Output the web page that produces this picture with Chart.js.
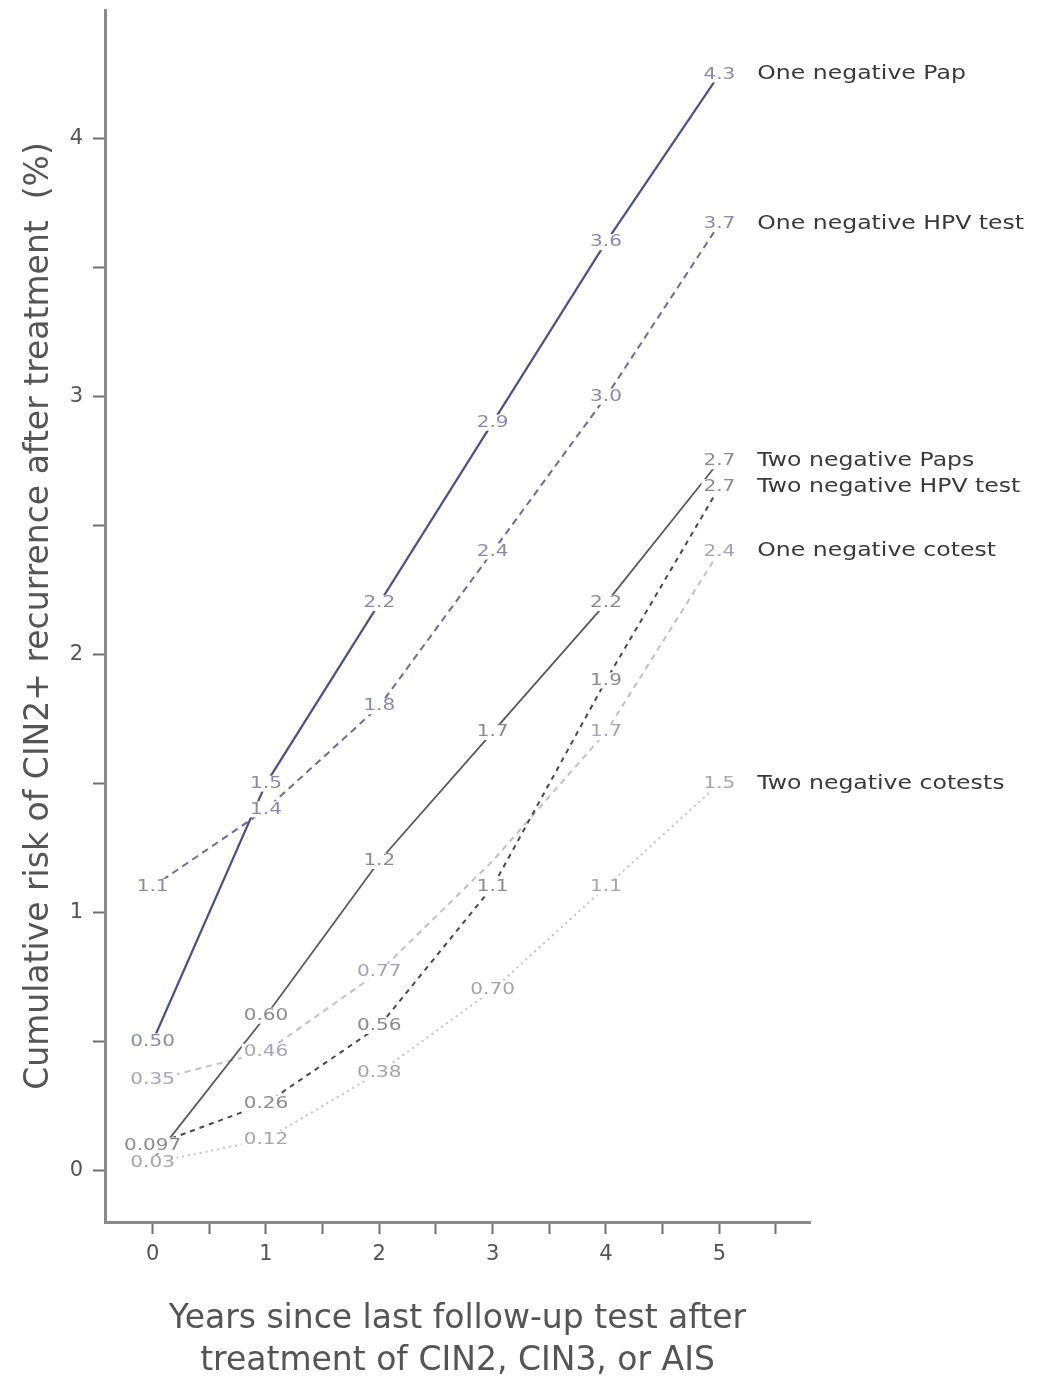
<!DOCTYPE html>
<html>
<head>
<meta charset="utf-8">
<script src="https://cdn.jsdelivr.net/npm/chart.js@4"></script>
<style>
  body { margin: 0; background: #ffffff; }
  canvas { display: block; }
</style>
</head>
<body>
<canvas id="chart" width="1056" height="1382"></canvas>
<script>
var years = [0, 1, 2, 3, 4, 5];

var oneNegPap = [0.50, 1.5, 2.2, 2.9, 3.6, 4.25];
var oneNegHpv = [1.1, 1.4, 1.8, 2.4, 3.0, 3.67];
var twoNegPaps = [0.04, 0.60, 1.2, 1.7, 2.2, 2.75];
var twoNegHpv = [0.097, 0.26, 0.56, 1.1, 1.9, 2.65];
var oneNegCotest = [0.35, 0.46, 0.77, 1.2, 1.7, 2.4];
var twoNegCotests = [0.03, 0.12, 0.38, 0.70, 1.1, 1.5];

var oneNegPapText = ['0.50', '1.5', '2.2', '2.9', '3.6', '4.3'];
var oneNegHpvText = ['1.1', '1.4', '1.8', '2.4', '3.0', '3.7'];
var twoNegPapsText = ['', '0.60', '1.2', '1.7', '2.2', '2.7'];
var twoNegHpvText = ['0.097', '0.26', '0.56', '1.1', '1.9', '2.7'];
var oneNegCotestText = ['0.35', '0.46', '0.77', '', '1.7', '2.4'];
var twoNegCotestsText = ['0.03', '0.12', '0.38', '0.70', '1.1', '1.5'];

var xTickValues = [0, 0.5, 1, 1.5, 2, 2.5, 3, 3.5, 4, 4.5, 5, 5.5];
var yTickValues = [0, 0.5, 1, 1.5, 2, 2.5, 3, 3.5, 4];

function pts(vals) {
    return vals.map(function (v, i) { return { x: years[i], y: v }; });
}

// text in the source is a bit wider than normal, so stretch it sideways
function wideText(ctx, t, x, y, sx) {
    ctx.save();
    ctx.translate(x, y);
    ctx.scale(sx, 1);
    ctx.fillText(t, 0, 0);
    ctx.restore();
}

var pointLabels = {
    id: 'pointLabels',
    afterDatasetsDraw: function (chart) {
        var ctx = chart.ctx;
        var xs = chart.scales.x, ys = chart.scales.y;
        ctx.save();
        ctx.textBaseline = 'middle';
        chart.data.datasets.forEach(function (ds) {
            ds.valueText.forEach(function (t, i) {
                if (!t) return;
                var px = xs.getPixelForValue(years[i]);
                var py = ys.getPixelForValue(ds.data[i].y);
                ctx.font = '16px "DejaVu Sans"';
                ctx.textAlign = 'center';
                var w = ctx.measureText(t).width * 1.25;
                ctx.fillStyle = '#ffffff';
                ctx.fillRect(px - w / 2 - 2, py - 8, w + 4, 16);
                ctx.fillStyle = ds.textColor;
                wideText(ctx, t, px, py, 1.25);
            });
            var last = years.length - 1;
            var lx = xs.getPixelForValue(years[last]) + 38;
            var ly = ys.getPixelForValue(ds.data[last].y);
            ctx.font = '19px "DejaVu Sans"';
            ctx.textAlign = 'left';
            ctx.fillStyle = '#3a3a3a';
            wideText(ctx, ds.label, lx, ly, 1.24);
        });
        ctx.restore();
    }
};

var config = {
    type: 'line',
    data: {
        datasets: [{
            label: 'One negative Pap',
            data: pts(oneNegPap),
            valueText: oneNegPapText,
            borderColor: '#4f4f8c',
            textColor: '#8a8ab0',
            borderWidth: 2.2
        },
        {
            label: 'One negative HPV test',
            data: pts(oneNegHpv),
            valueText: oneNegHpvText,
            borderColor: '#6c6c9c',
            textColor: '#8a8ab0',
            borderWidth: 2,
            borderDash: [7, 5]
        },
        {
            label: 'Two negative Paps',
            data: pts(twoNegPaps),
            valueText: twoNegPapsText,
            borderColor: '#5a5a5a',
            textColor: '#8c8c8c',
            borderWidth: 1.8
        },
        {
            label: 'Two negative HPV test',
            data: pts(twoNegHpv),
            valueText: twoNegHpvText,
            borderColor: '#4a4a4a',
            textColor: '#8c8c8c',
            borderWidth: 2,
            borderDash: [5, 5]
        },
        {
            label: 'One negative cotest',
            data: pts(oneNegCotest),
            valueText: oneNegCotestText,
            borderColor: '#c0c0d4',
            textColor: '#a4a4c0',
            borderWidth: 2,
            borderDash: [6, 5]
        },
        {
            label: 'Two negative cotests',
            data: pts(twoNegCotests),
            valueText: twoNegCotestsText,
            borderColor: '#c4c4c4',
            textColor: '#a6a6a6',
            borderWidth: 2,
            borderDash: [2, 4]
        }],
    },

    options: {
        responsive: false,
        animation: false,
        devicePixelRatio: 1,
        layout: {
            padding: { top: 10, right: 246, left: 0, bottom: 0 }
        },
        elements: {
            point: { radius: 0 },
            line: { tension: 0 }
        },
        plugins: {
            legend: { display: false },
            tooltip: { enabled: false }
        },
        scales: {
            x: {
                type: 'linear',
                min: -0.42,
                max: 5.8,
                afterBuildTicks: function (scale) {
                    scale.ticks = xTickValues.map(function (v) { return { value: v }; });
                },
                afterFit: function (scale) { scale.height = 160; },
                border: { color: '#8a8a8a', width: 3 },
                grid: {
                    drawOnChartArea: false,
                    drawTicks: true,
                    tickLength: 12,
                    tickColor: '#707070',
                    tickWidth: 2
                },
                ticks: {
                    autoSkip: false,
                    maxRotation: 0,
                    padding: 8,
                    color: '#555555',
                    font: { family: 'DejaVu Sans', size: 21 },
                    callback: function (v) { return Number.isInteger(v) ? String(v) : ''; }
                },
                title: {
                    display: true,
                    text: ['Years since last follow-up test after', 'treatment of CIN2, CIN3, or AIS'],
                    color: '#555555',
                    font: { family: 'DejaVu Sans', size: 33, lineHeight: 1.27 },
                    padding: { top: 0, bottom: 0 }
                }
            },
            y: {
                min: -0.2,
                max: 4.5,
                afterBuildTicks: function (scale) {
                    scale.ticks = yTickValues.map(function (v) { return { value: v }; });
                },
                afterFit: function (scale) {
                    scale.width = 105;
                    scale.paddingTop = 0;
                    scale.paddingBottom = 0;
                },
                border: { color: '#8a8a8a', width: 3 },
                grid: {
                    drawOnChartArea: false,
                    drawTicks: true,
                    tickLength: 12,
                    tickColor: '#707070',
                    tickWidth: 2
                },
                ticks: {
                    autoSkip: false,
                    padding: 10,
                    color: '#555555',
                    font: { family: 'DejaVu Sans', size: 21 },
                    callback: function (v) { return Number.isInteger(v) ? String(v) : ''; }
                },
                title: {
                    display: true,
                    text: 'Cumulative risk of CIN2+ recurrence after treatment  (%)',
                    color: '#555555',
                    font: { family: 'DejaVu Sans', size: 33 },
                    padding: { top: 20, bottom: 0 }
                }
            }
        }
    },
    plugins: [pointLabels]
};

var chartCtx = document.getElementById('chart').getContext('2d');
new Chart(chartCtx, config);
</script>
</body>
</html>
